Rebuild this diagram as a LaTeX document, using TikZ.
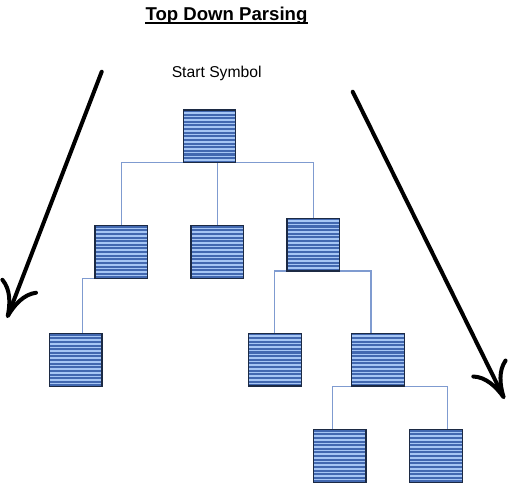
\documentclass[tikz,border=0pt]{standalone}
\usepackage{fontspec}
\setmainfont{Liberation Sans}
\usetikzlibrary{arrows.meta}
\definecolor{stripedark}{HTML}{4268B0}
\definecolor{stripelight}{HTML}{A6C6F4}
\definecolor{boxborder}{HTML}{1C2A44}
\definecolor{linkcol}{HTML}{7F9BD0}
\tikzset{
  treebox/.style={draw=boxborder, line width=1.2bp, fill=stripedark,
    minimum width=52.7bp, minimum height=52.7bp, inner sep=0pt, outer sep=0pt,
    path picture={
      \foreach \k in {0,...,13}{
        \fill[stripelight] ([yshift={-(2.0+\k*3.63)*1bp}]path picture bounding box.north west)
          rectangle ([yshift={-(3.6+\k*3.63)*1bp}]path picture bounding box.north east);
      }
    }},
  boxframe/.style={draw=boxborder, line width=1.2bp},
  link/.style={draw=linkcol, line width=1.1bp},
  bigarrow/.style={line width=4bp, line cap=round,
    -{Computer Modern Rightarrow[length=36bp,width=40bp,line width=4bp]}}
}
\begin{document}
\begin{tikzpicture}[x=1bp,y=-1bp]
\useasboundingbox (0,0) rectangle (508,483);
% title
\node[anchor=base, inner sep=0pt, font=\fontsize{18.6bp}{22bp}\selectfont\bfseries] (title) at (226.5,20.7) {Top Down Parsing};
\draw[line width=2bp] ([yshift=-2bp]title.base west) -- ([yshift=-2bp]title.base east);
\node[anchor=base, inner sep=0pt, font=\fontsize{15.7bp}{19bp}\selectfont] (start) at (216.7,77.3) {Start Symbol};
% boxes
\node[treebox] (root) at (209.5,136.3) {};
\node[treebox] (A) at (121.3,252) {};
\node[treebox] (B) at (217.3,252) {};
\node[treebox] (C) at (313.3,244.6) {};
\node[treebox] (D) at (75.7,360) {};
\node[treebox] (E) at (274.8,359.7) {};
\node[treebox] (F) at (377.8,359.7) {};
\node[treebox] (G) at (339.7,456) {};
\node[treebox] (H) at (435.8,456) {};
% connectors
\draw[link] (A.north) |- (root.south) -| (C.north);
\draw[link] (B.north) -- (B.north |- root.south);
\draw[link] (A.south) -| ([xshift=7bp]D.north);
\draw[link] (E.north) |- (C.south) -| ([xshift=-6.8bp]F.north);
\draw[link] ([xshift=-7.4bp]G.north) |- (F.south) -| ([xshift=11.9bp]H.north);
% redraw box frames on top of connectors
\foreach \n in {root,A,B,C,D,E,F,G,H}{
  \draw[boxframe] (\n.north west) rectangle (\n.south east);
}
% arrows
\coordinate (l1) at (101.7,71.7);
\coordinate (l2) at (7,318);
\coordinate (r1) at (352.7,91.7);
\coordinate (r2) at (504.5,399);
\draw[bigarrow] (l1) -- (l2);
\draw[bigarrow] (r1) -- (r2);
\end{tikzpicture}
\end{document}
